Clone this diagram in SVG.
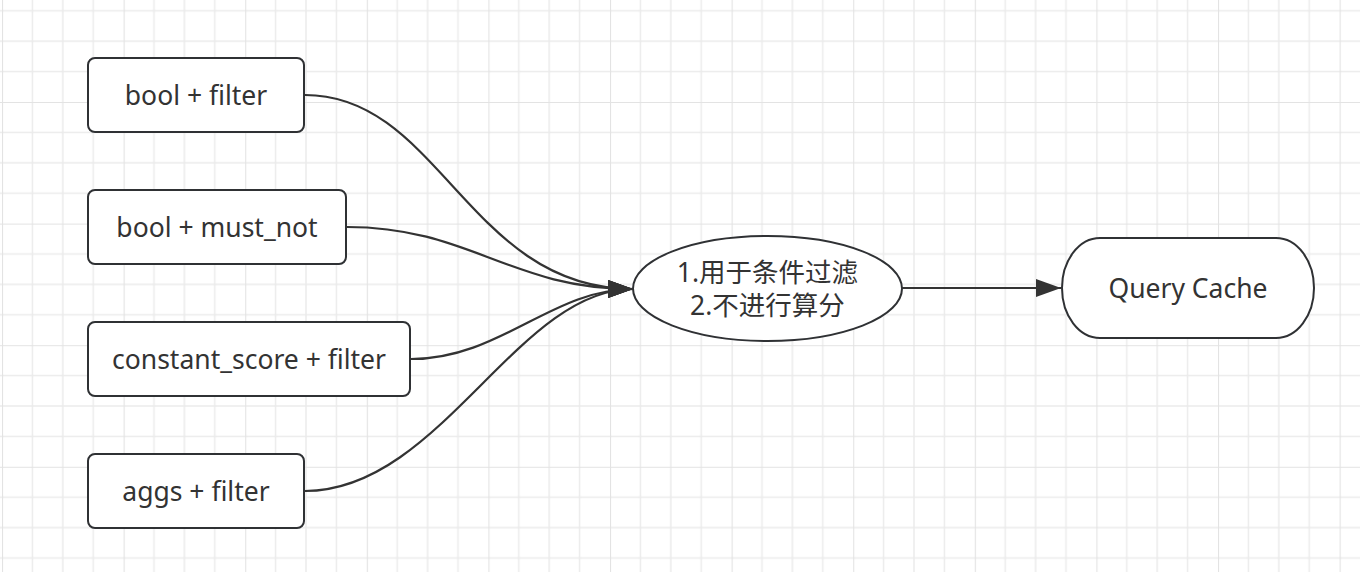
<svg xmlns="http://www.w3.org/2000/svg" width="1360" height="572" viewBox="0 0 1360 572">
  <style>
    .box { fill: #ffffff; stroke: #2f3134; stroke-width: 2; }
    .lbl { font-family: "Noto Sans", "Noto Sans CJK SC", sans-serif; font-size: 26.5px; fill: #333333; text-anchor: middle; }
    .edge { fill: none; stroke: #333333; stroke-width: 2.2; }
  </style>
  <defs>
    <pattern id="grid" x="2" y="-19.6" width="121.6" height="121.6" patternUnits="userSpaceOnUse">
      <path d="M30.4 0V121.6M60.8 0V121.6M91.2 0V121.6M0 30.4H121.6M0 60.8H121.6M0 91.2H121.6" stroke="#ebebeb" stroke-width="1.5" fill="none"/>
      <path d="M0 0V121.6M0 0H121.6" stroke="#e3e3e3" stroke-width="2.2" fill="none"/>
    </pattern>
    <marker id="arrow" markerUnits="userSpaceOnUse" markerWidth="26" markerHeight="20" refX="25" refY="9" orient="auto">
      <path d="M0 0L25 9L0 18Z" fill="#333333"/>
    </marker>
  </defs>
  <rect width="1360" height="572" fill="#ffffff"/>
  <rect width="1360" height="572" fill="url(#grid)"/>

  <g id="connectors">
    <path class="edge" d="M305 95C440 95 469 289 633 289" marker-end="url(#arrow)"/>
    <path class="edge" d="M347 227C470 227 510 289 633 289" marker-end="url(#arrow)"/>
    <path class="edge" d="M411 359C500 359 552 289 633 289" marker-end="url(#arrow)"/>
    <path class="edge" d="M305 491C440 491 517 289 633 289" marker-end="url(#arrow)"/>
    <path class="edge" d="M902 288H1061" marker-end="url(#arrow)"/>
  </g>

  <g id="n-bool-filter">
    <rect class="box" x="88" y="58" width="216" height="74" rx="7"/>
    <text class="lbl" x="196" y="104.5">bool + filter</text>
  </g>
  <g id="n-bool-must-not">
    <rect class="box" x="88" y="190" width="258" height="74" rx="7"/>
    <text class="lbl" x="217" y="236.5">bool + must_not</text>
  </g>
  <g id="n-constant-score">
    <rect class="box" x="88" y="322" width="322" height="74" rx="7"/>
    <text class="lbl" x="249" y="368.5">constant_score + filter</text>
  </g>
  <g id="n-aggs-filter">
    <rect class="box" x="88" y="454" width="216" height="74" rx="7"/>
    <text class="lbl" x="196" y="500.5">aggs + filter</text>
  </g>
  <g id="n-filter-context">
    <ellipse class="box" cx="767.5" cy="288.5" rx="134.5" ry="52.5"/>
    <text class="lbl" x="767.5" y="282">1.用于条件过滤</text>
    <text class="lbl" x="767.5" y="315">2.不进行算分</text>
  </g>
  <g id="n-query-cache">
    <rect class="box" x="1062" y="238" width="252" height="100" rx="38" ry="50"/>
    <text class="lbl" x="1188" y="297.5">Query Cache</text>
  </g>
</svg>
